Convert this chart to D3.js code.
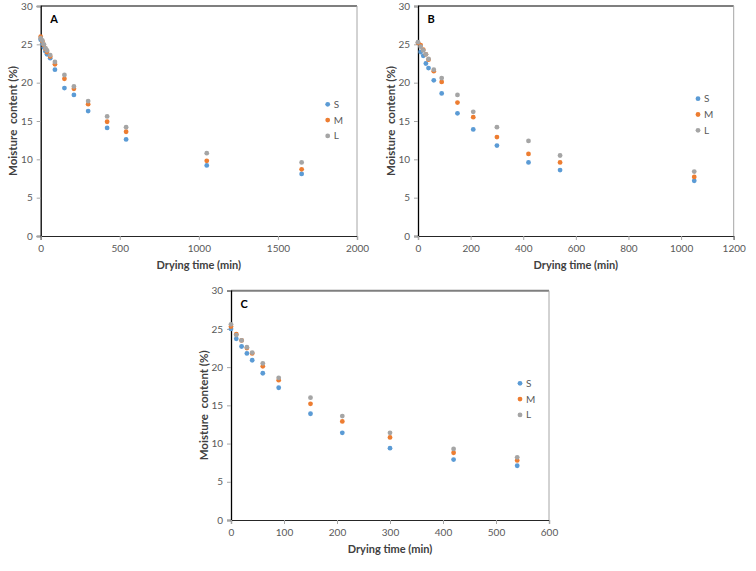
<!DOCTYPE html>
<html>
<head>
<meta charset="utf-8">
<script src="https://cdn.jsdelivr.net/npm/d3@7"></script>
<style>
  html, body { margin: 0; padding: 0; background: #fff; }
  svg { display: block; }
  text { font-family: Lato, "Liberation Sans", sans-serif; }
</style>
</head>
<body>
<svg id="chart" width="756" height="571"></svg>
<script>
// ---------- data ----------
const seriesNames = ["S", "M", "L"];
const seriesColors = ["#5B9BD5", "#ED7D31", "#A5A5A5"];

const timesA = [0, 10, 20, 30, 40, 60, 90, 150, 210, 300, 420, 540, 1050, 1650];
const A_S = [25.6, 25.1, 24.6, 24.1, 23.7, 23.2, 21.7, 19.3, 18.4, 16.3, 14.1, 12.6, 9.2, 8.1];
const A_M = [26.0, 25.4, 24.9, 24.4, 24.0, 23.4, 22.4, 20.5, 19.2, 17.2, 14.9, 13.6, 9.8, 8.7];
const A_L = [25.8, 25.5, 25.0, 24.5, 24.2, 23.6, 22.7, 21.0, 19.5, 17.6, 15.6, 14.2, 10.8, 9.6];

const timesB = [0, 10, 20, 30, 40, 60, 90, 150, 210, 300, 420, 540, 1050];
const B_S = [25.2, 24.0, 23.5, 22.5, 21.9, 20.3, 18.6, 16.0, 13.9, 11.8, 9.6, 8.6, 7.2];
const B_M = [25.2, 24.9, 24.3, 23.7, 23.0, 21.5, 20.1, 17.4, 15.5, 12.9, 10.7, 9.6, 7.7];
const B_L = [25.3, 24.7, 24.2, 23.7, 23.1, 21.7, 20.6, 18.4, 16.2, 14.2, 12.4, 10.5, 8.4];

const timesC = [0, 10, 20, 30, 40, 60, 90, 150, 210, 300, 420, 540];
const C_S = [25.0, 23.7, 22.7, 21.8, 20.9, 19.2, 17.3, 13.9, 11.4, 9.4, 7.9, 7.1];
const C_M = [25.3, 24.3, 23.5, 22.5, 21.8, 20.1, 18.3, 15.2, 12.9, 10.8, 8.8, 7.8];
const C_L = [25.6, 24.2, 23.5, 22.6, 21.9, 20.5, 18.6, 16.0, 13.6, 11.4, 9.3, 8.2];

const yTicks = [0, 5, 10, 15, 20, 25, 30];
const xTicksA = [0, 500, 1000, 1500, 2000];
const xTicksB = [0, 200, 400, 600, 800, 1000, 1200];
const xTicksC = [0, 100, 200, 300, 400, 500, 600];

const xTitle = "Drying time (min)";
const yTitle = "Moisture\u00a0\u00a0content (%)";

// ---------- layout ----------
const panels = [
  { label: "A", times: timesA, series: [A_S, A_M, A_L], xTicks: xTicksA, xMax: 2000,
    box: { l: 40.7, r: 357, t: 6, b: 236 }, legend: { x: 327.7, y: 104.3 } },
  { label: "B", times: timesB, series: [B_S, B_M, B_L], xTicks: xTicksB, xMax: 1200,
    box: { l: 418, r: 733.7, t: 6, b: 236 }, legend: { x: 698, y: 98.7 } },
  { label: "C", times: timesC, series: [C_S, C_M, C_L], xTicks: xTicksC, xMax: 600,
    box: { l: 231, r: 549, t: 290.7, b: 520 }, legend: { x: 520, y: 383.3 } }
];

const svg = d3.select("#chart");
svg.append("rect").attr("width", 756).attr("height", 571).attr("fill", "#fff");

panels.forEach(p => {
  const b = p.box;
  const x = d3.scaleLinear().domain([0, p.xMax]).range([b.l, b.r]);
  const y = d3.scaleLinear().domain([0, 30]).range([b.b, b.t]);
  const g = svg.append("g");

  // frame: top and right
  g.append("line").attr("x1", b.l).attr("x2", b.r).attr("y1", b.t).attr("y2", b.t)
    .attr("stroke", "#7f7f7f").attr("stroke-width", 2);
  g.append("line").attr("x1", b.r).attr("x2", b.r).attr("y1", b.t).attr("y2", b.b)
    .attr("stroke", "#a6a6a6").attr("stroke-width", 1);

  // y axis
  const yAxis = d3.axisLeft(y).tickValues(yTicks).tickSize(4).tickPadding(4).tickFormat(d3.format("d"));
  const ya = g.append("g").attr("transform", `translate(${b.l},0)`).call(yAxis);
  ya.select(".domain").attr("stroke", "#000").attr("stroke-width", 1.3);
  ya.selectAll(".tick line").attr("stroke", "#a6a6a6");
  ya.selectAll(".tick text").attr("fill", "#595959").style("font-size", "10px")
    .style("font-family", "Lato, 'Liberation Sans', sans-serif");

  // x axis
  const xAxis = d3.axisBottom(x).tickValues(p.xTicks).tickSize(4).tickPadding(5).tickFormat(d3.format("d"));
  const xa = g.append("g").attr("transform", `translate(0,${b.b})`).call(xAxis);
  xa.select(".domain").attr("stroke", "#262626").attr("stroke-width", 1.2);
  xa.selectAll(".tick line").attr("stroke", "#a6a6a6");
  xa.selectAll(".tick text").attr("fill", "#595959").style("font-size", "10px")
    .style("font-family", "Lato, 'Liberation Sans', sans-serif");

  // titles
  g.append("text").attr("x", (b.l + b.r) / 2).attr("y", b.b + 33)
    .attr("text-anchor", "middle").attr("fill", "#404040")
    .style("font-size", "11px").style("font-weight", "bold").text(xTitle);
  const yc = (b.t + b.b) / 2;
  g.append("text").attr("transform", `translate(${b.l - 23.5},${yc}) rotate(-90)`)
    .attr("text-anchor", "middle").attr("fill", "#404040")
    .style("font-size", "11.5px").style("font-weight", "bold").text(yTitle);

  // panel label
  g.append("text").attr("x", b.l + 9.5).attr("y", b.t + 17)
    .attr("fill", "#000").style("font-size", "11px").style("font-weight", "bold").text(p.label);

  // points
  p.series.forEach((vals, si) => {
    g.append("g").selectAll("circle").data(vals).join("circle")
      .attr("cx", (d, i) => x(p.times[i]))
      .attr("cy", d => y(d))
      .attr("r", 2.4)
      .attr("fill", seriesColors[si]);
  });

  // legend
  seriesNames.forEach((name, si) => {
    const ly = p.legend.y + si * 15.8;
    g.append("circle").attr("cx", p.legend.x).attr("cy", ly).attr("r", 2.4).attr("fill", seriesColors[si]);
    g.append("text").attr("x", p.legend.x + 6).attr("y", ly + 3.5)
      .attr("fill", "#595959").style("font-size", "10px").text(name);
  });
});
</script>
</body>
</html>
